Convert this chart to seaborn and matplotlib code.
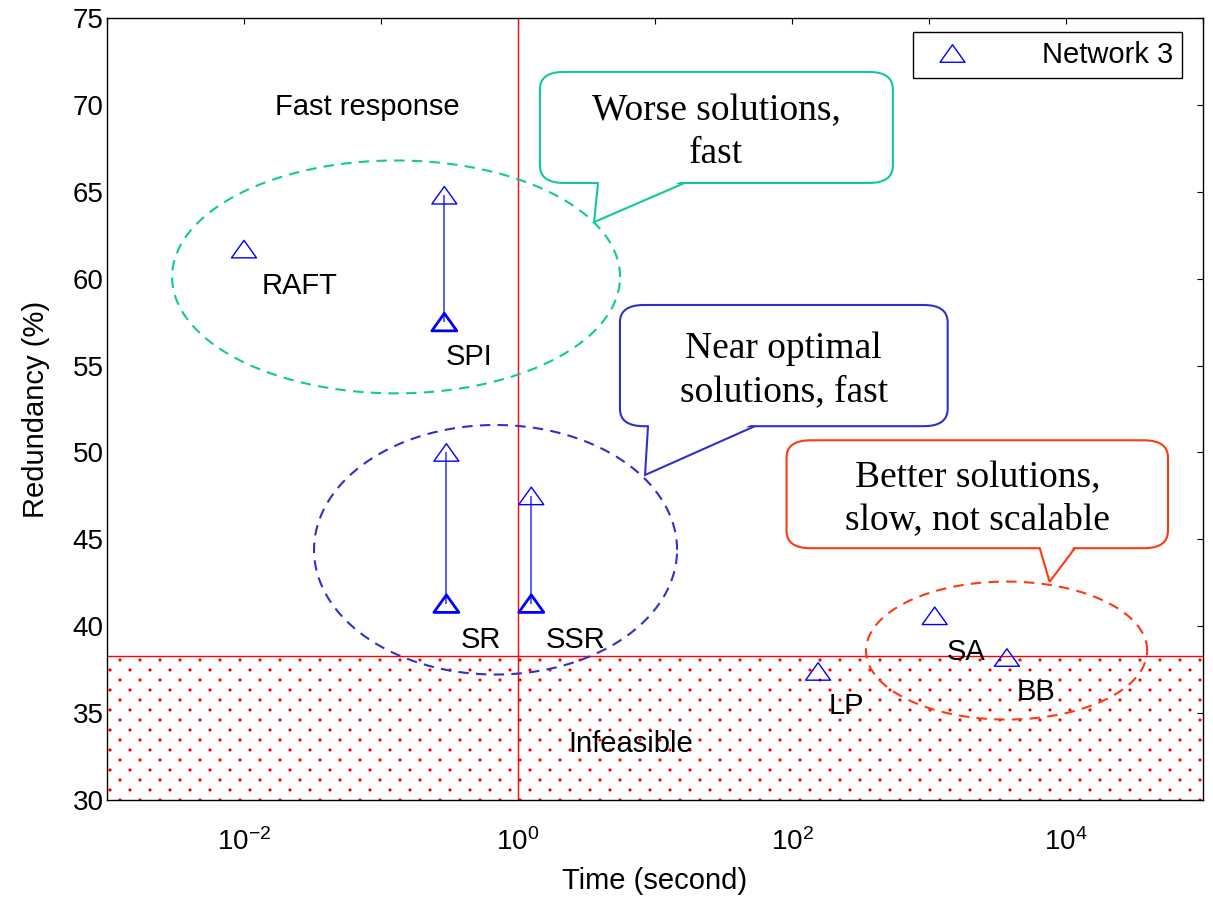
import numpy as np
import matplotlib
matplotlib.use("Agg")
from matplotlib import pyplot as plt
from matplotlib.patches import FancyBboxPatch, Polygon
from matplotlib.path import Path
from matplotlib.lines import Line2D
import matplotlib.ticker as mticker
import matplotlib.hatch as mhatch
import seaborn as sns

# data
methods = ["RAFT", "SPI", "SR", "SSR", "LP", "SA", "BB"]
time_s = [0.01, 0.29, 0.30, 1.25, 155, 1100, 3700]
redundancy = [61.7, 57.5, 41.3, 41.3, 37.4, 40.6, 38.2]
# upper end of the range for the methods that have one
range_methods = ["SPI", "SR", "SSR"]
range_top = [64.8, 50.0, 47.5]

feasible_limit = 38.3
x_ticks_exp = list(range(-3, 6))
x_labels_exp = [-2, 0, 2, 4]


# MATLAB-like dot fill: dots 20 px apart in a row, rows 10 px apart, staggered
class DotFill(mhatch.HatchPatternBase):
    def __init__(self, hatch, density):
        circle = Path.unit_circle()
        self.shape_vertices = circle.vertices
        self.shape_codes = circle.codes
        self.centres = []
        if hatch.count("."):
            for r in range(11):
                cols = np.arange(0, 1.0001, 0.2) if r % 2 == 0 else np.arange(0.1, 1, 0.2)
                self.centres += [(c, r / 10) for c in cols]
        self.num_vertices = len(self.centres) * len(self.shape_vertices)

    def set_vertices_and_codes(self, vertices, codes):
        n = len(self.shape_vertices)
        for i, (cx, cy) in enumerate(self.centres):
            vertices[i * n:(i + 1) * n] = self.shape_vertices * 0.016 + (cx, cy)
            codes[i * n:(i + 1) * n] = self.shape_codes


mhatch._hatch_types = [DotFill if h is mhatch.SmallFilledCircles else h
                       for h in mhatch._hatch_types]

sns.set_style("white")
plt.rcParams["font.family"] = ["Liberation Sans", "DejaVu Sans"]
plt.rcParams["mathtext.fontset"] = "custom"
plt.rcParams["mathtext.rm"] = "Liberation Sans"
plt.rcParams["mathtext.it"] = "Liberation Sans:italic"
plt.rcParams["hatch.linewidth"] = 0.0
for k in ["text.color", "axes.labelcolor", "xtick.color", "ytick.color"]:
    plt.rcParams[k] = "black"

fig = plt.figure(figsize=(12.13, 8.98), dpi=100)
ax = fig.add_axes([0.0882, 0.1091, 0.9036, 0.8709])

# flat MATLAB-like triangle
tri = Path([(-1, -0.7), (1, -0.7), (0, 0.7), (-1, -0.7)],
           [Path.MOVETO, Path.LINETO, Path.LINETO, Path.CLOSEPOLY])

# infeasible region and limit lines
ax.axhspan(30, feasible_limit, facecolor="none", edgecolor="red",
           hatch=".", linewidth=0, zorder=0)
ax.axhline(feasible_limit, color="red", lw=1, zorder=1)
ax.axvline(1, color="red", lw=1, zorder=1)

# ranges
lo = [redundancy[methods.index(m)] for m in range_methods]
xs = [time_s[methods.index(m)] for m in range_methods]
ax.vlines(xs, lo, range_top, color="#4040ff", lw=1.2, zorder=2)

sns.scatterplot(x=time_s, y=redundancy, marker=tri, s=18 ** 2,
                facecolor="none", edgecolor="blue", linewidth=1,
                legend=False, ax=ax, zorder=3)
sns.scatterplot(x=xs, y=lo, marker=tri, s=18 ** 2, facecolor="none",
                edgecolor="blue", linewidth=2, legend=False, ax=ax, zorder=3)
sns.scatterplot(x=xs, y=range_top, marker=tri, s=18 ** 2, facecolor="none",
                edgecolor="blue", linewidth=1, legend=False, ax=ax, zorder=3)

# method labels (log10 x offset, y)
label_pos = {"RAFT": (-1.87, 59.6), "SPI": (-0.53, 55.5), "SR": (-0.42, 39.2),
             "SSR": (0.2, 39.2), "LP": (2.27, 35.4), "SA": (3.13, 38.5),
             "BB": (3.64, 36.2)}
for m in methods:
    lx, ly = label_pos[m]
    ax.text(10 ** lx, ly, m, fontsize=21, ha="left", va="center", zorder=4)
ax.text(10 ** -1.10, 69.9, "Fast response", fontsize=21, ha="center", va="center")
ax.text(10 ** 0.825, 33.2, "Infeasible", fontsize=21, ha="center", va="center")

# dashed ellipses (log10 centre, y centre, half width in decades, half height)
t = np.linspace(0, 2 * np.pi, 300)
groups = [(-0.89, 60.1, 1.635, 6.7, "#10c8a0"),
          (-0.164, 44.4, 1.325, 7.18, "#3030c8"),
          (3.566, 38.6, 1.026, 3.97, "#ff3810")]
for cx, cy, a, b, col in groups:
    ax.plot(10 ** (cx + a * np.cos(t)), cy + b * np.sin(t), color=col,
            lw=1.5, ls=(0, (5, 3.5)), zorder=2)


def callout(box, base, tip, text, color):
    x0, y0, x1, y1 = box
    ax.add_patch(FancyBboxPatch((x0, y0), x1 - x0, y1 - y0,
                                boxstyle="round,pad=0,rounding_size=0.022",
                                transform=ax.transAxes, fc="white", ec=color,
                                lw=1.5, zorder=5))
    ax.add_patch(Polygon([(base[0], y0 + 0.004), (base[1], y0 + 0.004), tip],
                         closed=True, transform=ax.transAxes, fc="white",
                         ec="none", zorder=6))
    ax.plot([base[0], tip[0], base[1]], [y0, tip[1], y0], color=color, lw=1.5,
            transform=ax.transAxes, zorder=7, solid_joinstyle="miter")
    ax.text((x0 + x1) / 2, (y0 + y1) / 2 - 0.006, text, transform=ax.transAxes,
            ha="center", va="center", fontsize=27, linespacing=1.32,
            family=["Liberation Serif", "DejaVu Serif"], zorder=8)


callout((0.395, 0.789, 0.717, 0.931), (0.448, 0.527), (0.4444, 0.739),
        "Worse solutions,\nfast", "#10c8a0")
callout((0.468, 0.478, 0.767, 0.633), (0.4936, 0.591), (0.4909, 0.4156),
        "Near optimal\nsolutions, fast", "#3030c8")
callout((0.620, 0.322, 0.968, 0.460), (0.851, 0.883), (0.860, 0.279),
        "Better solutions,\nslow, not scalable", "#ff3810")

# axes
ax.set_xscale("log")
ax.set_xlim(1e-3, 1e5)
ax.set_ylim(30, 75)
ax.xaxis.set_major_locator(mticker.FixedLocator([10.0 ** e for e in x_ticks_exp]))
ax.xaxis.set_minor_locator(mticker.NullLocator())
ax.xaxis.set_major_formatter(mticker.FuncFormatter(
    lambda v, p: r"$10^{%d}$" % round(np.log10(v))
    if round(np.log10(v)) in x_labels_exp else ""))
ax.set_yticks(np.arange(30, 76, 5))
ax.tick_params(which="both", direction="in", top=True, right=True, length=4,
               width=0.8, labelsize=20)
ax.tick_params(axis="x", pad=20)
ax.tick_params(axis="y", pad=2.5)
for s in ax.spines.values():
    s.set_color("black")
    s.set_linewidth(1)
ax.set_xlabel("Time (second)", fontsize=21, labelpad=8)
ax.set_ylabel("Redundancy (%)", fontsize=21, labelpad=16)

handle = Line2D([], [], marker=tri, ls="none", markersize=18,
                markerfacecolor="none", markeredgecolor="blue", markeredgewidth=1)
leg = ax.legend([handle], ["Network 3"], loc="upper right",
                bbox_to_anchor=(0.981, 0.982), borderaxespad=0, fontsize=21,
                fancybox=False, framealpha=1, edgecolor="black",
                handlelength=2.07, handletextpad=2.05, borderpad=0.3)
leg.get_frame().set_linewidth(1)

fig.savefig("out.png", dpi=100)
